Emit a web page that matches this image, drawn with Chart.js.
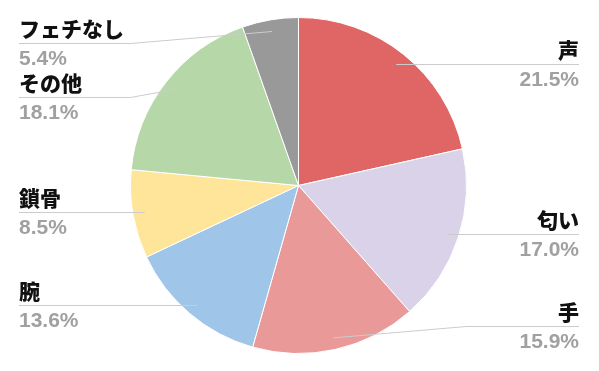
<!DOCTYPE html>
<html>
<head>
<meta charset="utf-8">
<script src="https://cdn.jsdelivr.net/npm/chart.js@4.4.1/dist/chart.umd.min.js"></script>
<style>
  html, body { margin: 0; padding: 0; background: #fff; }
  #wrap { width: 599px; height: 371px; }
</style>
</head>
<body>
<div id="wrap"><canvas id="chart"></canvas></div>
<script>
const labels = ['声', '匂い', '手', '腕', '鎖骨', 'その他', 'フェチなし'];
const values = [21.5, 17.0, 15.9, 13.6, 8.5, 18.1, 5.4];
const colors = ['#e06666', '#d9d2e9', '#ea9999', '#9fc5e8', '#ffe599', '#b6d7a8', '#999999'];

// side labels with leader lines (google-sheets style)
const sideLabels = {
    id: 'sideLabels',
    afterDatasetsDraw(chart) {
        const ctx = chart.ctx;
        const meta = chart.getDatasetMeta(0);
        const TOP = 43, BOTTOM = chart.height - 45, GAP = 54;
        const LEFT_X = 19, RIGHT_X = chart.width - 20;

        var items = meta.data.map(function (arc, i) {
            var p = arc.getProps(['x', 'y', 'startAngle', 'endAngle', 'outerRadius'], true);
            var mid = (p.startAngle + p.endAngle) / 2;
            var d = p.outerRadius * 0.93;
            return {
                i: i,
                right: Math.cos(mid) >= 0,
                ax: p.x + d * Math.cos(mid),
                ay: p.y + d * Math.sin(mid),
                cx: p.x,
                r: p.outerRadius
            };
        });

        [true, false].forEach(function (side) {
            var group = items.filter(function (it) { return it.right === side; });
            group.sort(function (a, b) { return a.ay - b.ay; });
            var prev = -Infinity;
            group.forEach(function (it) {
                var ly = Math.min(Math.max(it.ay, TOP), BOTTOM);
                ly = Math.max(ly, prev + GAP);
                it.ly = ly;
                prev = ly;
            });
        });

        ctx.save();
        items.forEach(function (it) {
            //leader line
            ctx.beginPath();
            ctx.strokeStyle = '#cccccc';
            ctx.lineWidth = 1;
            var edgeX = it.right ? RIGHT_X : LEFT_X;
            var ly = Math.round(it.ly) + 0.5;
            var bent = Math.abs(it.ly - it.ay) > 1;
            ctx.moveTo(edgeX, ly);
            if (bent) {
                var elbowX = it.right ? it.cx + it.r : it.cx - it.r;
                ctx.lineTo(elbowX, ly);
                ctx.lineTo(it.ax, it.ay);
            } else {
                ctx.lineTo(it.ax, ly);
            }
            ctx.stroke();

            //texts
            ctx.textAlign = it.right ? 'right' : 'left';
            ctx.textBaseline = 'alphabetic';
            ctx.fillStyle = '#111111';
            ctx.font = '900 21px "Liberation Sans", "Noto Sans CJK JP", sans-serif';
            ctx.fillText(labels[it.i], edgeX, it.ly - 6);
            ctx.fillStyle = '#a0a0a0';
            ctx.font = 'bold 21px "Liberation Sans", Arial, sans-serif';
            ctx.fillText(values[it.i].toFixed(1) + '%', edgeX, it.ly + 22);
        });
        ctx.restore();
    }
};

new Chart(document.getElementById('chart'), {
    type: 'pie',
    data: {
        labels: labels,
        datasets: [{
            data: values,
            backgroundColor: colors,
            borderColor: '#ffffff',
            borderWidth: 1
        }]
    },
    options: {
        responsive: true,
        maintainAspectRatio: false,
        animation: false,
        layout: { padding: { top: 17, bottom: 17, left: 0, right: 2 } },
        plugins: {
            legend: { display: false },
            tooltip: { enabled: false }
        }
    },
    plugins: [sideLabels]
});
</script>
</body>
</html>
